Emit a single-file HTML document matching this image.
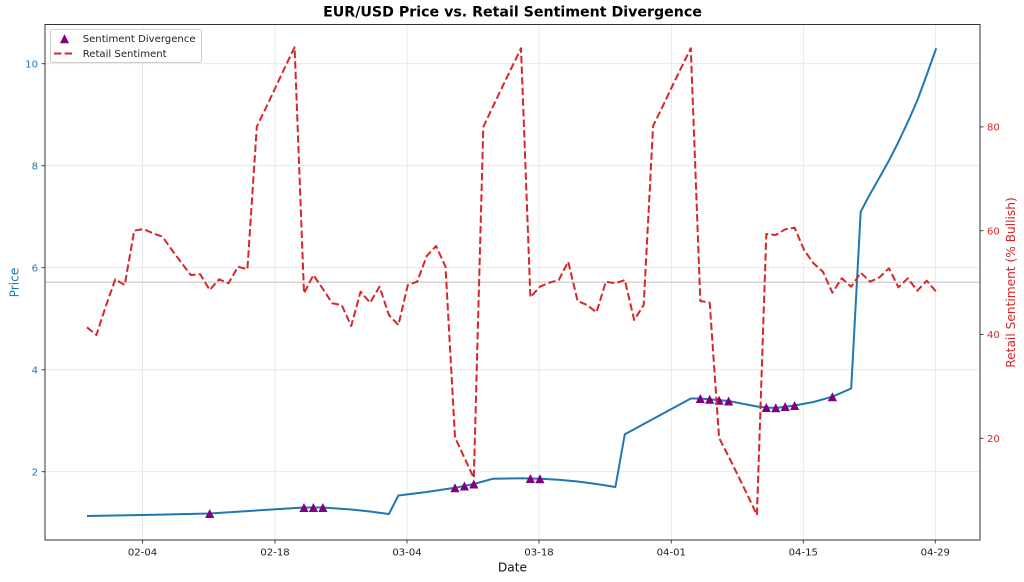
<!DOCTYPE html>
<html>
<head>
<meta charset="utf-8">
<style>
  html, body { margin: 0; padding: 0; background: #ffffff; }
  svg { display: block; }
  text { font-family: "DejaVu Sans", "Liberation Sans", sans-serif; }
</style>
</head>
<body>
<svg width="1024" height="582" viewBox="0 0 1024 582" xmlns="http://www.w3.org/2000/svg">
  <rect x="0" y="0" width="1024" height="582" fill="#ffffff"/>

  <!-- grid -->
  <g stroke="#e6e6e6" stroke-width="0.9" fill="none">
    <line x1="142.5" y1="24.5" x2="142.5" y2="540"/>
    <line x1="275" y1="24.5" x2="275" y2="540"/>
    <line x1="407" y1="24.5" x2="407" y2="540"/>
    <line x1="539" y1="24.5" x2="539" y2="540"/>
    <line x1="671.3" y1="24.5" x2="671.3" y2="540"/>
    <line x1="803.3" y1="24.5" x2="803.3" y2="540"/>
    <line x1="935.3" y1="24.5" x2="935.3" y2="540"/>
    <line x1="45" y1="471.7" x2="980" y2="471.7"/>
    <line x1="45" y1="369.7" x2="980" y2="369.7"/>
    <line x1="45" y1="267.7" x2="980" y2="267.7"/>
    <line x1="45" y1="165.7" x2="980" y2="165.7"/>
    <line x1="45" y1="63.7" x2="980" y2="63.7"/>
  </g>

  <!-- neutral sentiment line -->
  <line x1="45" y1="282.2" x2="980" y2="282.2" stroke="#c4c4c4" stroke-width="1.2"/>

  <g>
    <!-- price line -->
    <polyline fill="none" stroke="#1f77b4" stroke-width="2" stroke-linejoin="round"
      points="87.0,516 143.6,515 209.7,513.5 275.7,509.3 304.0,507.5 322.9,507.5 351.2,509.5 370.1,511.5 388.9,514 398.4,495.5 426.7,492 455.0,487.8 473.8,484 492.7,478.8 521.0,478.2 539.9,478.8 558.8,479.8 577.6,481.5 596.5,484 615.4,487 624.8,434.3 690.8,398.5 700.3,398.5 728.6,401 756.9,406.5 766.3,407.5 775.8,408 794.6,405.5 813.5,402 832.4,396.7 851.2,388.5 860.7,211.7 870.1,194 879.5,177.5 889.0,160.5 898.4,142 907.8,122 917.3,100.5 926.7,75 936.2,48.3"/>

    <!-- divergence markers -->
    <g fill="#800080">
      <polygon points="209.7,509 205.1,518 214.3,518"/>
      <polygon points="304.0,503 299.4,512 308.6,512"/>
      <polygon points="313.4,503 308.8,512 318.0,512"/>
      <polygon points="322.9,503 318.3,512 327.5,512"/>
      <polygon points="455.0,483.3 450.4,492.3 459.6,492.3"/>
      <polygon points="464.4,481.5 459.8,490.5 469.0,490.5"/>
      <polygon points="473.8,479.5 469.2,488.5 478.4,488.5"/>
      <polygon points="530.4,474 525.8,483 535.0,483"/>
      <polygon points="539.9,474.3 535.3,483.3 544.5,483.3"/>
      <polygon points="700.3,394 695.7,403 704.9,403"/>
      <polygon points="709.7,394.8 705.1,403.8 714.3,403.8"/>
      <polygon points="719.1,395.7 714.5,404.7 723.7,404.7"/>
      <polygon points="728.6,396.5 724.0,405.5 733.2,405.5"/>
      <polygon points="766.3,403 761.7,412 770.9,412"/>
      <polygon points="775.8,403.2 771.2,412.2 780.4,412.2"/>
      <polygon points="785.2,402 780.6,411 789.8,411"/>
      <polygon points="794.6,401 790.0,410 799.2,410"/>
      <polygon points="832.4,392.2 827.8,401.2 837.0,401.2"/>
    </g>

    <!-- retail sentiment -->
    <polyline fill="none" stroke="#d62728" stroke-width="2" stroke-dasharray="7.4 3.2" stroke-linejoin="round"
      points="87.0,327.3 96.4,335 105.9,306 115.3,279.3 124.7,285 134.2,230.7 143.6,229 153.0,233.3 162.5,236.7 171.9,250 181.4,262.7 190.8,275 200.2,274.3 209.7,290 219.1,279.3 228.5,283.3 238.0,266.7 247.4,269.3 256.8,126.7 266.3,107 275.7,87 285.1,67 294.6,47.3 304.0,293.3 313.4,275 322.9,289 332.3,303.3 341.7,305 351.2,326 360.6,291.7 370.1,302.7 379.5,286.7 388.9,315 398.4,325 407.8,285 417.2,281.7 426.7,256 436.1,246 445.5,266.7 455.0,437.3 464.4,457.7 473.8,478 483.3,127 492.7,107 502.1,87.3 511.6,67.7 521.0,48.3 530.4,297.3 539.9,286.7 549.3,282.7 558.8,280 568.2,261.7 577.6,301 587.1,305 596.5,312.3 605.9,281.7 615.4,283.3 624.8,280 634.2,320 643.7,305 653.1,126 662.5,106.7 672.0,86.7 681.4,67.3 690.8,48.3 700.3,301 709.7,302.7 719.1,438 728.6,456.4 738.0,475.6 747.5,495 756.9,515 766.3,234 775.8,235 785.2,229.3 794.6,227.7 804.1,250 813.5,263.3 822.9,271.7 832.4,292.7 841.8,278.3 851.2,286.7 860.7,272.7 870.1,281.7 879.5,277.3 889.0,268.3 898.4,287.3 907.8,278.3 917.3,290.7 926.7,280.7 936.2,291.7"/>
  </g>

  <!-- spines -->
  <rect x="45" y="24.5" width="935" height="515.5" fill="none" stroke="#333333" stroke-width="1"/>

  <!-- ticks -->
  <g stroke="#333333" stroke-width="0.9">
    <line x1="142.5" y1="540" x2="142.5" y2="543.5"/>
    <line x1="275" y1="540" x2="275" y2="543.5"/>
    <line x1="407" y1="540" x2="407" y2="543.5"/>
    <line x1="539" y1="540" x2="539" y2="543.5"/>
    <line x1="671.3" y1="540" x2="671.3" y2="543.5"/>
    <line x1="803.3" y1="540" x2="803.3" y2="543.5"/>
    <line x1="935.3" y1="540" x2="935.3" y2="543.5"/>
    <line x1="41.5" y1="471.7" x2="45" y2="471.7"/>
    <line x1="41.5" y1="369.7" x2="45" y2="369.7"/>
    <line x1="41.5" y1="267.7" x2="45" y2="267.7"/>
    <line x1="41.5" y1="165.7" x2="45" y2="165.7"/>
    <line x1="41.5" y1="63.7" x2="45" y2="63.7"/>
    <line x1="980" y1="438.3" x2="983.5" y2="438.3"/>
    <line x1="980" y1="334.5" x2="983.5" y2="334.5"/>
    <line x1="980" y1="230.7" x2="983.5" y2="230.7"/>
    <line x1="980" y1="126.9" x2="983.5" y2="126.9"/>
  </g>

  <!-- x tick labels -->
  <g font-size="10.1" fill="#222222" text-anchor="middle">
    <text x="142.5" y="555.5">02-04</text>
    <text x="275" y="555.5">02-18</text>
    <text x="407" y="555.5">03-04</text>
    <text x="539" y="555.5">03-18</text>
    <text x="671.3" y="555.5">04-01</text>
    <text x="803.3" y="555.5">04-15</text>
    <text x="935.3" y="555.5">04-29</text>
  </g>

  <!-- left tick labels -->
  <g font-size="10.1" fill="#1f77b4" text-anchor="end">
    <text x="38" y="475.4">2</text>
    <text x="38" y="373.4">4</text>
    <text x="38" y="271.4">6</text>
    <text x="38" y="169.4">8</text>
    <text x="38" y="67.4">10</text>
  </g>

  <!-- right tick labels -->
  <g font-size="10.1" fill="#d62728" text-anchor="start">
    <text x="987" y="442">20</text>
    <text x="987" y="338.2">40</text>
    <text x="987" y="234.4">60</text>
    <text x="987" y="130.6">80</text>
  </g>

  <!-- axis labels -->
  <text x="512.5" y="571.5" font-size="12.2" fill="#111111" text-anchor="middle">Date</text>
  <text transform="translate(18.5,282.5) rotate(-90)" font-size="12.2" fill="#1f77b4" text-anchor="middle">Price</text>
  <text transform="translate(1015,282.5) rotate(-90)" font-size="12.2" fill="#d62728" text-anchor="middle">Retail Sentiment (% Bullish)</text>

  <!-- title -->
  <text x="512.5" y="16.5" font-size="14.2" font-weight="bold" fill="#000000" text-anchor="middle">EUR/USD Price vs. Retail Sentiment Divergence</text>

  <!-- legend -->
  <rect x="50.5" y="29.5" width="151" height="33" rx="2" ry="2" fill="#ffffff" fill-opacity="0.85" stroke="#cccccc" stroke-width="1"/>
  <polygon points="64.5,34.3 59.9,43.3 69.1,43.3" fill="#800080"/>
  <line x1="54" y1="53.5" x2="75" y2="53.5" stroke="#d62728" stroke-width="2" stroke-dasharray="7.4 3.2"/>
  <g font-size="10.1" fill="#222222">
    <text x="82.7" y="42">Sentiment Divergence</text>
    <text x="82.7" y="57">Retail Sentiment</text>
  </g>
</svg>
</body>
</html>
